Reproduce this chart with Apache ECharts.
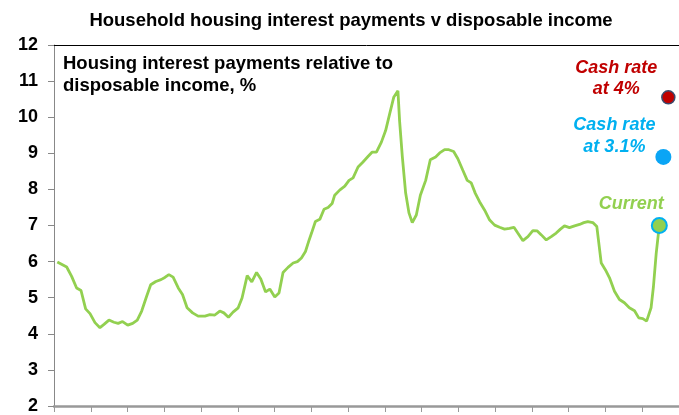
<!DOCTYPE html>
<html>
<head>
<meta charset="utf-8">
<script src="https://cdn.jsdelivr.net/npm/echarts@6/dist/echarts.min.js"></script>
<style>
html,body{margin:0;padding:0;background:#fff;}
#chart{width:679px;height:415px;}
</style>
</head>
<body>
<div id="chart"></div>
<script>
// Time position (decimal years, approximate) and housing interest payments / disposable income (%)
const years = [
  1988.18,1988.69,1988.96,1989.23,1989.47,1989.72,1989.96,1990.23,1990.50,1990.72,
  1990.99,1991.26,1991.49,1991.73,1992.01,1992.28,1992.53,1992.77,1993.04,1993.26,
  1993.54,1993.82,1994.03,1994.25,1994.48,1994.76,1994.99,1995.24,1995.54,1995.84,
  1996.21,1996.48,1996.75,1997.02,1997.24,1997.49,1997.74,1998.02,1998.23,1998.51,
  1998.76,1999.02,1999.25,1999.51,1999.74,2000.01,2000.24,2000.46,2000.73,2001.01,
  2001.24,2001.46,2001.68,2001.88,2002.01,2002.22,2002.46,2002.69,2002.91,2003.13,
  2003.27,2003.54,2003.82,2004.05,2004.27,2004.54,2004.81,2005.08,2005.30,2005.54,
  2005.81,2006.04,2006.26,2006.48,2006.71,2006.80,2006.95,2007.13,2007.31,2007.49,
  2007.71,2007.93,2008.22,2008.47,2008.76,2008.98,2009.25,2009.48,2009.74,2009.97,
  2010.24,2010.48,2010.70,2010.92,2011.15,2011.42,2011.70,2011.97,2012.24,2012.51,
  2012.78,2013.02,2013.23,2013.51,2013.78,2014.05,2014.29,2014.51,2014.78,2015.05,
  2015.32,2015.55,2015.77,2016.04,2016.32,2016.59,2016.82,2017.04,2017.31,2017.53,
  2017.77,2018.00,2018.22,2018.49,2018.76,2019.03,2019.30,2019.58,2019.81,2020.03,
  2020.24,2020.48,2020.61,2020.76,2020.93
];
const values = [
  5.99,5.85,5.59,5.27,5.20,4.69,4.56,4.31,4.17,4.26,
  4.38,4.32,4.29,4.34,4.24,4.29,4.38,4.63,5.04,5.36,
  5.45,5.50,5.56,5.64,5.57,5.27,5.09,4.72,4.58,4.49,
  4.49,4.53,4.52,4.63,4.58,4.46,4.60,4.72,4.99,5.61,
  5.44,5.70,5.52,5.16,5.24,5.02,5.13,5.70,5.84,5.96,
  6.00,6.10,6.28,6.60,6.79,7.11,7.17,7.45,7.50,7.61,
  7.84,7.98,8.09,8.25,8.32,8.62,8.76,8.91,9.03,9.03,
  9.31,9.63,10.09,10.55,10.73,9.90,8.90,7.90,7.35,7.08,
  7.29,7.84,8.25,8.82,8.90,9.01,9.10,9.10,9.05,8.85,
  8.53,8.25,8.18,7.89,7.66,7.43,7.15,7.01,6.95,6.90,
  6.92,6.95,6.79,6.58,6.69,6.86,6.85,6.74,6.60,6.69,
  6.79,6.90,6.99,6.94,6.99,7.03,7.08,7.11,7.08,6.97,
  5.96,5.77,5.55,5.18,4.95,4.86,4.72,4.64,4.44,4.42,
  4.35,4.72,5.31,6.23,7.01
];
// Scenario markers
const scenarioNames  = ['Current', 'Cash rate\nat 3.1%', 'Cash rate\nat 4%'];
const scenarioYears  = [2020.93, 2021.15, 2021.42];
const scenarioValues = [7.0, 8.9, 10.55];

const yTicks = [2,3,4,5,6,7,8,9,10,11,12];

const FONT = '"Liberation Sans", Arial, Helvetica, sans-serif';
const chart = echarts.init(document.getElementById('chart'), null, {renderer:'canvas'});

const scenarioStyles = [
  {size: 15, fill: '#92d050', border: '#00b0f0', bw: 2, color: '#92d050', offset: [-28, -21], lh: 21},
  {size: 16, fill: '#0aa5f5', border: '#0aa5f5', bw: 0, color: '#00b0f0', offset: [-49, -21], lh: 22},
  {size: 13, fill: '#c00000', border: '#3b4a6e', bw: 1.5, color: '#c00000', offset: [-52, -19], lh: 21}
];

const scatterData = scenarioNames.map((n, i) => {
  const s = scenarioStyles[i];
  return {
    value: [scenarioYears[i], scenarioValues[i]],
    symbolSize: s.size,
    itemStyle: {color: s.fill, borderColor: s.border, borderWidth: s.bw, opacity: 1},
    label: {
      show: true, position: 'inside', offset: s.offset, formatter: n,
      color: s.color, fontFamily: FONT, fontSize: 18, fontWeight: 'bold',
      fontStyle: 'italic', lineHeight: s.lh, align: 'center'
    }
  };
});

chart.setOption({
  animation: false,
  backgroundColor: '#ffffff',
  grid: {left: 54, right: 0, top: 45, bottom: 8, containLabel: false},
  xAxis: [{
    type: 'value', min: 1988, max: 2022, interval: 2,
    axisLine: {show: true, lineStyle: {color: '#999999', width: 2.5}},
    axisTick: {show: true, inside: false, length: 6, lineStyle: {color: '#999999', width: 1}},
    axisLabel: {show: false},
    splitLine: {show: false}
  }, {
    type: 'value', min: 1988, max: 2022, position: 'top',
    axisLine: {show: true, onZero: false, lineStyle: {color: '#000000', width: 1}},
    axisTick: {show: false}, axisLabel: {show: false}, splitLine: {show: false}
  }],
  yAxis: {
    type: 'value', min: yTicks[0], max: yTicks[yTicks.length - 1], interval: 1,
    axisLine: {show: true, lineStyle: {color: '#888888', width: 1}},
    axisTick: {show: true, inside: false, length: 6, lineStyle: {color: '#888888'}},
    axisLabel: {show: true, margin: 16, color: '#000', fontFamily: FONT, fontSize: 18, fontWeight: 'bold'},
    splitLine: {show: false}
  },
  graphic: [
    {type: 'text', style: {
      text: 'Household housing interest payments v disposable income',
      x: 351, y: 21, textAlign: 'center', textVerticalAlign: 'middle',
      font: 'bold 18.5px ' + FONT, fill: '#000'}},
    {type: 'text', style: {
      text: 'Housing interest payments relative to\ndisposable income, %',
      x: 63, y: 75, textAlign: 'left', textVerticalAlign: 'middle', lineHeight: 22,
      font: 'bold 18.5px ' + FONT, fill: '#000'}}
  ],
  series: [{
    type: 'line', xAxisIndex: 0,
    data: years.map((y, i) => [y, values[i]]),
    showSymbol: false, symbol: 'none',
    lineStyle: {color: '#92d050', width: 2.8},
    z: 2
  }, {
    type: 'scatter', xAxisIndex: 0,
    data: scatterData,
    z: 5
  }]
});
</script>
</body>
</html>
